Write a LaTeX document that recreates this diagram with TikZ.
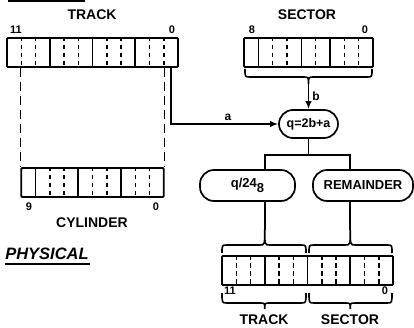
\documentclass[tikz,border=0pt]{standalone}
\usepackage{fontspec}
\setmainfont{Liberation Sans}
\usetikzlibrary{arrows.meta}
\newcommand\mybrace[6]{%
  \draw[bracepath] (#1,#4) .. controls (#1,#5) .. (#1+5,#5) -- (#3-5,#5)
    .. controls (#3,#5) .. (#3,#6) .. controls (#3,#5) .. (#3+5,#5)
    -- (#2-5,#5) .. controls (#2,#5) .. (#2,#4);}
% \regdivs{x0}{bitwidth}{ytop}{ybottom}{solid list}{dashed list}
\newcommand\regdivs[6]{%
  \foreach \k in {#5} \draw[soliddiv] (#1+\k*#2,#3) -- (#1+\k*#2,#4);
  \foreach \k in {#6} \draw[dashdiv] (#1+\k*#2,#3) -- (#1+\k*#2,#4);}
\begin{document}
\begin{tikzpicture}[x=1pt,y=-1pt,
  reg/.style={draw,line width=1.8pt,minimum height=29pt,inner sep=0pt,rounded corners=1pt},
  soliddiv/.style={line width=1.6pt},
  dashdiv/.style={line width=1.5pt,dash pattern=on 4.5pt off 3.5pt,dash phase=1pt},
  longdash/.style={line width=1.5pt,dash pattern=on 9pt off 5pt},
  conn/.style={line width=1.6pt},
  bracepath/.style={line width=1.6pt},
  pill/.style={draw,line width=1.7pt,inner sep=0pt,minimum height=31pt,rounded corners=14pt},
  big/.style={font=\fontsize{14}{16}\selectfont\bfseries,inner sep=0pt},
  small/.style={font=\fontsize{11}{12}\selectfont\bfseries,inner sep=0pt},
  arr/.style={conn,-{Latex[length=8pt,width=6.5pt]}}]
\useasboundingbox[fill=white] (0,0) rectangle (414,328);

% cut-off title underline
\draw[line width=2pt] (8,1) -- (85,1);

% TRACK register
\node[big] (trackT) at (92,15) {TRACK};
\node[small] (t11) at (16,30) {11};
\node[small] (t0) at (172,30) {0};
\node[reg,minimum width=171pt] (track) at (92.5,52.5) {};
\regdivs{7}{14.25}{38}{67}{3,6,9}{1,2,4,5,7,8,10,11}

% CYLINDER register
\node[reg,minimum width=142.5pt] (cyl) at (92.5,182.5) {};
\regdivs{21.25}{14.25}{168}{197}{1,4,7}{2,3,5,6,8,9}
\node[small] (c9) at (29,207) {9};
\node[small] (c0) at (156,207) {0};
\node[big] (cylT) at (92,223) {CYLINDER};
\draw[longdash] (track.south -| cyl.west) -- (cyl.north west);
\draw[longdash] (track.south -| cyl.east) -- (cyl.north east);

% PHYSICAL
\node[inner sep=0pt,font=\fontsize{16.5}{19}\selectfont\bfseries\itshape] (phys) at (47,254) {PHYSICAL};
\draw[line width=1.6pt] (5,264) -- (90,264);

% SECTOR register
\node[big] (sectT) at (307,15) {SECTOR};
\node[small] (s8) at (252,30) {8};
\node[small] (s0) at (365,30) {0};
\node[reg,minimum width=129pt] (sect) at (308.5,52.5) {};
\regdivs{244}{14.333}{38}{67}{1,4,6}{2,3,5,7,8}
\mybrace{245}{372}{308.5}{69}{77}{84}
\coordinate (sb) at (308.5,84);

% q node
\node[pill,minimum width=59pt,minimum height=28pt,font=\fontsize{12.5}{14}\selectfont\bfseries] (q) at (308.5,124) {q=2b+a};
\draw[arr] (sb) -- (q.north);
\node[small,font=\fontsize{12}{13}\selectfont\bfseries] (lb) at (316,96) {b};
\coordinate (a0) at (171,67);
\draw[arr] (a0) |- (q.west);
\node[small,font=\fontsize{12}{13}\selectfont\bfseries] (la) at (228,117) {a};

% split nodes
\node[pill,minimum width=95pt,font=\fontsize{13}{14}\selectfont\bfseries] (q24) at (247.5,185.5) {q/24\raisebox{-5pt}{8}};
\node[pill,minimum width=100pt,font=\fontsize{13}{14}\selectfont\bfseries] (rem) at (363,185.5) {REMAINDER};
\coordinate (jn) at (308.5,155);
\coordinate (tipL) at (264.75,230);
\coordinate (tipR) at (350.25,230);
\draw[conn] (q.south) -- (jn);
\draw[conn] (q24.north -| tipL) |- (jn) -| (rem.north -| tipR);
\draw[conn] (q24.south -| tipL) -- (tipL);
\draw[conn] (rem.south -| tipR) -- (tipR);

% bottom register
\node[reg,minimum width=171pt] (out) at (307.5,270.5) {};
\regdivs{222}{14.25}{256}{285}{3,6,9}{1,2,4,5,7,8,10,11}
\mybrace{222}{306}{264.75}{253}{245}{230}
\mybrace{309}{392}{350.25}{253}{245}{230}
\mybrace{222}{306}{264.75}{293}{303}{309}
\mybrace{309}{392}{350.25}{293}{303}{309}
\node[small] (o11) at (230,291) {11};
\node[small] (o0) at (385,291) {0};
\node[big] (oT) at (264,320) {TRACK};
\node[big] (oS) at (350,320) {SECTOR};
\end{tikzpicture}
\end{document}
